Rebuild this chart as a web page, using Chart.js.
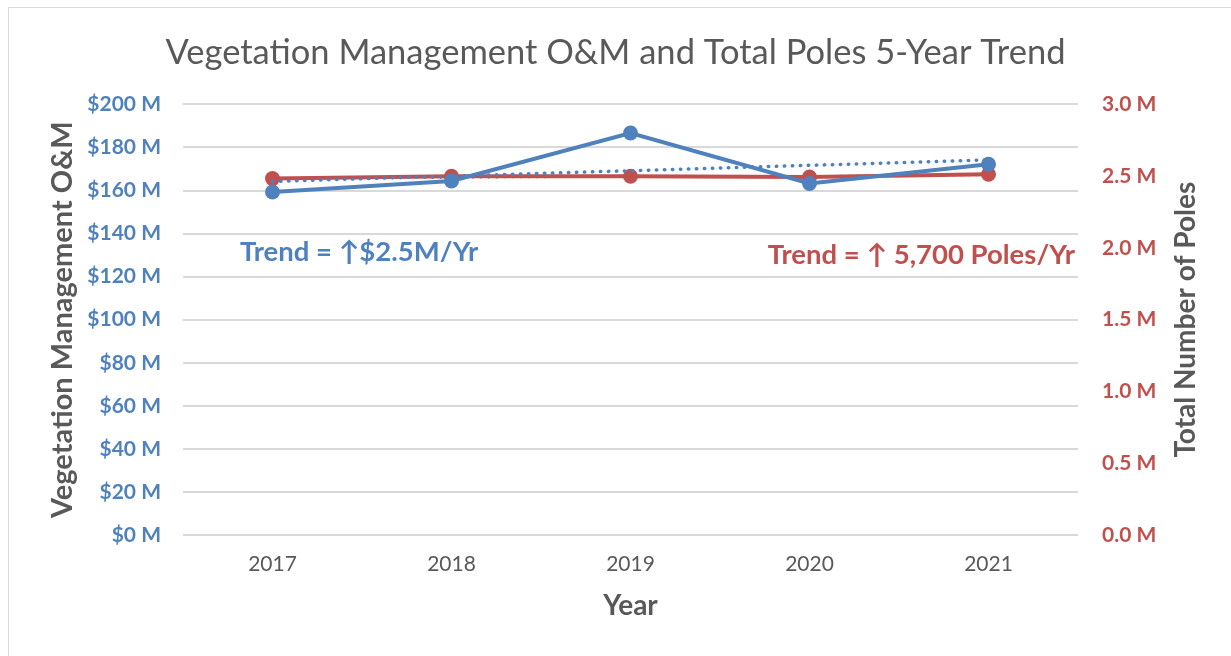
<!DOCTYPE html>
<html>
<head>
<meta charset="utf-8">
<script src="https://cdn.jsdelivr.net/npm/chart.js@4/dist/chart.umd.min.js"></script>
<style>
  html, body { margin: 0; padding: 0; background: #ffffff; overflow: hidden; }
  #frame { position: absolute; left: 8px; top: 7px; width: 1400px; height: 800px; border: 1px solid #d9d9d9; }
  #wrap { position: absolute; left: 0; top: 0; width: 1231px; height: 656px; }
</style>
</head>
<body>
<div id="frame"></div>
<div id="wrap"><canvas id="c" width="1231" height="656"></canvas></div>
<script>
// ---- data ----
const years = ['2017', '2018', '2019', '2020', '2021'];
const vegOM = [159.3, 164.4, 186.7, 163.3, 172.2];          // $ M
const vegTrend = [164.2, 166.7, 169.2, 171.7, 174.2];        // $ M (dotted trend)
const poles = [2.483, 2.499, 2.499, 2.494, 2.513];           // millions of poles
const polesTrend = [2.484, 2.490, 2.496, 2.501, 2.507];      // millions (dotted trend)
const leftTicks = [0, 20, 40, 60, 80, 100, 120, 140, 160, 180, 200];
const rightTicks = [0, 0.5, 1.0, 1.5, 2.0, 2.5, 3.0];
const titleText = 'Vegetation Management O&M and Total Poles 5-Year Trend';
const leftTitle = 'Vegetation Management O&M';
const rightTitle = 'Total Number of Poles';
const xTitle = 'Year';
const blueNote = 'Trend = \u2191$2.5M/Yr';
const redNote = 'Trend = \u2191 5,700 Poles/Yr';

const BLUE = '#4F81BD';
const RED = '#C0504D';
const GRAY = '#595959';
const FONT = "Lato, 'Open Sans', sans-serif";

const extras = {
  id: 'extras',
  afterDatasetsDraw(chart) {
    const ctx = chart.ctx, a = chart.chartArea;
    ctx.save();
    ctx.font = "bold 27.5px " + FONT;
    ctx.textBaseline = 'middle';
    ctx.fillStyle = BLUE;
    ctx.textAlign = 'left';
    ctx.fillText(blueNote, a.left + 57, 252);
    ctx.fillStyle = RED;
    ctx.textAlign = 'right';
    ctx.fillText(redNote, a.right - 3, 255);
    // right axis title, reading bottom-to-top like the reference
    ctx.translate(1186, (a.top + a.bottom) / 2);
    ctx.rotate(-Math.PI / 2);
    ctx.textAlign = 'center';
    ctx.fillStyle = GRAY;
    ctx.font = "bold 28px " + FONT;
    ctx.fillText(rightTitle, 0, 0);
    ctx.restore();
  }
};

new Chart(document.getElementById('c'), {
  type: 'line',
  data: {
    labels: years,
    datasets: [
      { label: 'Vegetation Management O&M', data: vegOM, yAxisID: 'y', borderColor: BLUE, backgroundColor: BLUE,
        borderWidth: 4, pointRadius: 7.5, pointHoverRadius: 7.5, pointBorderWidth: 0, tension: 0 },
      { label: 'O&M Trend', data: vegTrend, yAxisID: 'y', borderColor: BLUE, borderWidth: 3.5,
        borderDash: [0.5, 7.5], borderCapStyle: 'round', pointRadius: 0, tension: 0 },
      { label: 'Total Number of Poles', data: poles, yAxisID: 'y1', borderColor: RED, backgroundColor: RED,
        borderWidth: 4, pointRadius: 7.5, pointHoverRadius: 7.5, pointBorderWidth: 0, tension: 0 },
      { label: 'Poles Trend', data: polesTrend, yAxisID: 'y1', borderColor: '#a8403d', borderWidth: 2,
        borderDash: [0.5, 7.5], borderCapStyle: 'round', pointRadius: 0, tension: 0 }
    ]
  },
  options: {
    responsive: false,
    animation: false,
    layout: { padding: { left: 0, right: 0, top: 0, bottom: 0 } },
    plugins: {
      legend: { display: false },
      tooltip: { enabled: false },
      title: {
        display: true, text: titleText, color: GRAY,
        font: { family: FONT, size: 34.5, weight: 'normal' },
        padding: { top: 32, bottom: 31 }
      }
    },
    scales: {
      x: {
        offset: true,
        grid: { display: false, drawTicks: false },
        border: { display: false },
        ticks: { color: GRAY, font: { family: FONT, size: 21 }, padding: 17 },
        title: { display: true, text: xTitle, color: GRAY, font: { family: FONT, size: 28, weight: 'bold' }, padding: { top: 0, bottom: 33 } },
        afterFit(s) { s.height = 121; }
      },
      y: {
        position: 'left', min: 0, max: 200,
        afterBuildTicks(s) { s.ticks = leftTicks.map(v => ({ value: v })); },
        grid: { color: '#d9d9d9', lineWidth: 2, drawTicks: false },
        border: { display: false },
        ticks: { color: BLUE, font: { family: FONT, size: 21, weight: 'bold' }, padding: 22,
                 callback: v => '$' + v + ' M' },
        title: { display: true, text: leftTitle, color: GRAY,
                 font: { family: FONT, size: 29, weight: 'bold' }, padding: { top: 45, bottom: 0 } },
        afterFit(s) { s.width = 183; }
      },
      y1: {
        position: 'right', min: 0, max: 3,
        afterBuildTicks(s) { s.ticks = rightTicks.map(v => ({ value: v })); },
        grid: { drawOnChartArea: false, drawTicks: false },
        border: { display: false },
        ticks: { color: RED, font: { family: FONT, size: 21, weight: 'bold' }, padding: 24,
                 callback: v => Number(v).toFixed(1) + ' M' },
        title: { display: false },
        afterFit(s) { s.width = 1231 - 1078; }
      }
    }
  },
  plugins: [extras]
});
</script>
</body>
</html>
